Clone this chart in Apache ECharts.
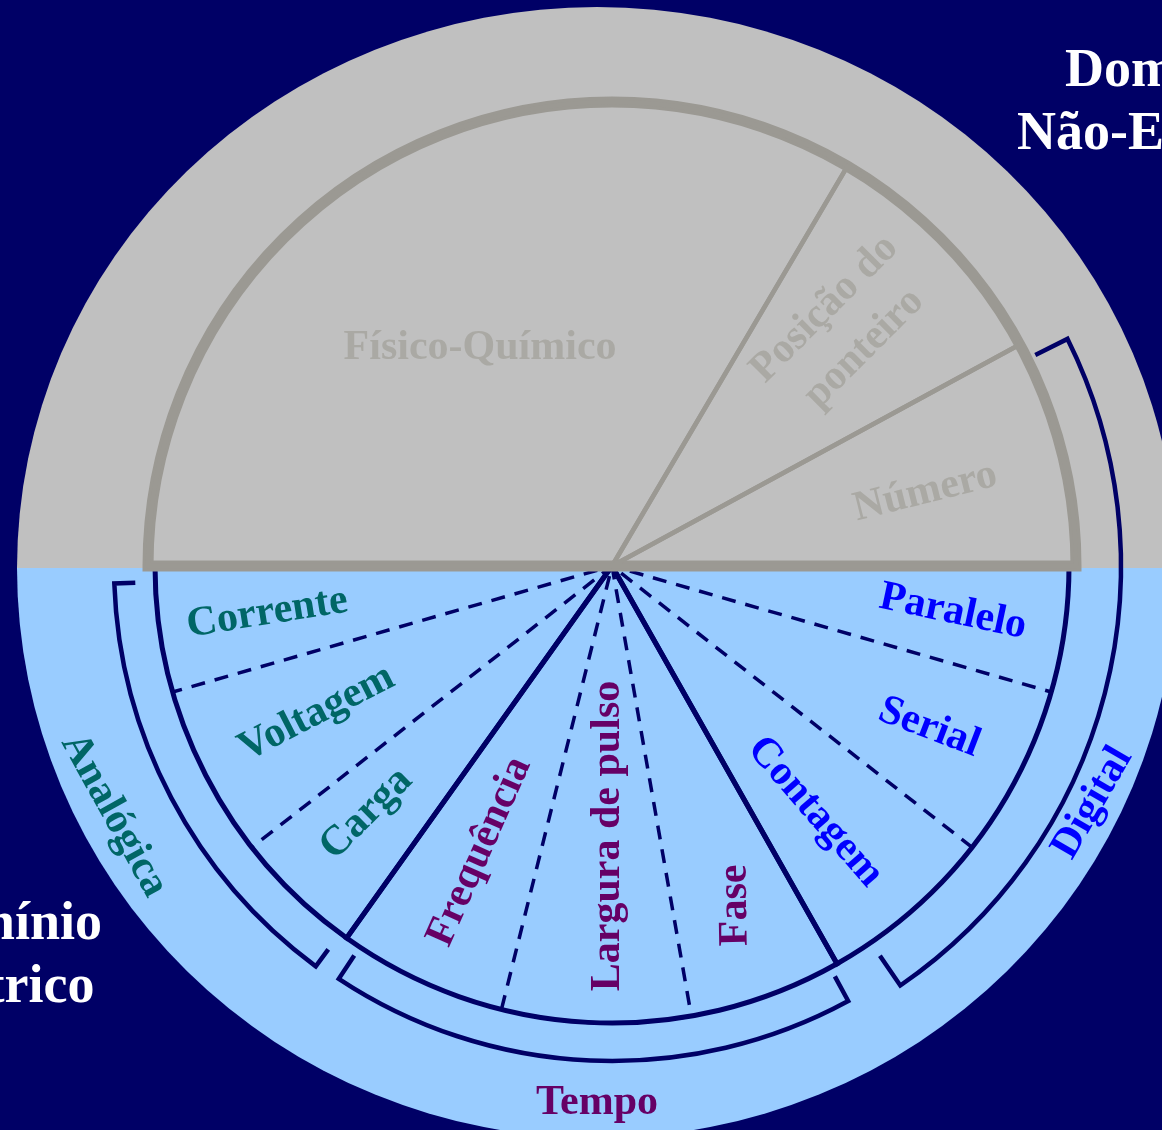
<!DOCTYPE html>
<html>
<head>
<meta charset="utf-8">
<script src="https://cdn.jsdelivr.net/npm/echarts@6/dist/echarts.min.js"></script>
<style>
html,body{margin:0;padding:0;background:#000066;}
#chart{width:1162px;height:1130px;}
</style>
</head>
<body>
<div id="chart"></div>
<script>
// ---------------- data (angles in degrees) ----------------
const domainNames = ['Domínio Não-Elétrico', 'Domínio Elétrico'];
const domainSpans = [180, 180];

const physicalNames = ['Físico-Químico', 'Posição do\nponteiro', 'Número'];
const physicalSpans = [120.5, 31, 28.5];

const electricNames = ['Paralelo', 'Serial', 'Contagem', 'Fase', 'Largura de pulso',
                       'Frequência', 'Carga', 'Voltagem', 'Corrente'];
const electricSpans = [16, 22, 22.5, 19.5, 24, 21.5, 16.5, 22, 16];

const groupNames = ['Digital', 'Tempo', 'Analógica'];
const groupSizes = [3, 3, 3];            // electric sectors belonging to each group
const bracketFrom = [-26.5, 61.5, 126.5]; // bracket extent of each group
const bracketTo = [55.5, 123.5, 178];

// ---------------- styles & layout ----------------
const NAVY = '#000066', GRAY = '#c0c0c0', LIGHT = '#99ccff', EDGE = '#9b9993', GHOST = '#aaa9a4';
const GROUP_COLORS = ['#0000ff', '#660066', '#006666'];
const FONT = '"Liberation Serif","Times New Roman",serif';

const OUTER = { center: [597, 568], radius: 580, scaleY: [561 / 580, 570 / 580] };
const INNER = { center: [612, 566], polarRadius: 600, upperR: 464, lowerR: 457 };
const BRACKET = [{ r: 509, tick: 36 }, { r: 495, tick: 28 }, { r: 498, tick: 21 }];

const physicalLabel = [
  { r: 255, da: -1.4, rot: 0 },
  { r: 332, da: -1.6, rot: 45, lh: 56 },
  { r: 322, da: 1.0, rot: 14 }
];
const electricLabel = [
  { r: 344, da: -0.3, rot: -12 },
  { r: 356, da: 0, rot: -21 },
  { r: 319, da: 1.2, rot: -49 },
  { r: 361, da: -0.2, rot: 91 },
  { r: 270, da: -1.1, rot: 90 },
  { r: 315, da: 0.1, rot: 66 },
  { r: 349, da: 1.0, rot: 45 },
  { r: 330, da: 0.5, rot: 27 },
  { r: 348, da: 0.2, rot: 9 }
];
const groupLabel = [
  { r: 536, da: -4, rot: 60 },
  { r: 537, da: -1.4, rot: 0 },
  { r: 557, da: 0.65, rot: -61 }
];

// ---------------- helpers ----------------
function ranges(spans, start) {
  const out = []; let a = start;
  spans.forEach(s => { out.push([a, a + s]); a += s; });
  return out;
}
const groupSpans = [];
(function () {
  let k = 0;
  groupSizes.forEach(n => { let s = 0; for (let j = 0; j < n; j++) s += electricSpans[k++]; groupSpans.push(s); });
})();
const groupOf = [];
groupSizes.forEach((n, g) => { for (let j = 0; j < n; j++) groupOf.push(g); });

function pixAngle(c, p) { return Math.atan2(p[1] - c[1], p[0] - c[0]); }
function sweep(a0, a1) { let d = a1 - a0; while (d <= 1e-9) d += Math.PI * 2; while (d > Math.PI * 2) d -= Math.PI * 2; return d; }

const filler = { name: '', value: 180, itemStyle: { color: 'transparent', borderWidth: 0 } };

// label items
const labelItems = [];
ranges(physicalSpans, -180).forEach((rg, i) => {
  const L = physicalLabel[i];
  labelItems.push({ text: physicalNames[i], color: GHOST, r: L.r, angle: (rg[0] + rg[1]) / 2 + L.da, rot: L.rot, lh: L.lh });
});
ranges(electricSpans, 0).forEach((rg, i) => {
  const L = electricLabel[i];
  labelItems.push({ text: electricNames[i], color: GROUP_COLORS[groupOf[i]], r: L.r, angle: (rg[0] + rg[1]) / 2 + L.da, rot: L.rot });
});
ranges(groupSpans, 0).forEach((rg, i) => {
  const L = groupLabel[i];
  labelItems.push({ text: groupNames[i], color: GROUP_COLORS[i], r: L.r, angle: (rg[0] + rg[1]) / 2 + L.da, rot: L.rot });
});

const hiddenAxis = { show: false, axisLine: { show: false }, axisTick: { show: false }, axisLabel: { show: false }, splitLine: { show: false } };
const pieBase = {
  type: 'pie', silent: true, animation: false, clockwise: true,
  label: { show: false }, labelLine: { show: false }, emphasis: { disabled: true, scale: false }
};

const option = {
  backgroundColor: NAVY,
  animation: false,
  polar: [
    { center: OUTER.center, radius: OUTER.radius },
    { center: INNER.center, radius: INNER.polarRadius }
  ],
  angleAxis: [
    Object.assign({ polarIndex: 0, type: 'value', min: -180, max: 180, startAngle: 180, clockwise: true }, hiddenAxis),
    Object.assign({ polarIndex: 1, type: 'value', min: -180, max: 180, startAngle: 180, clockwise: true }, hiddenAxis)
  ],
  radiusAxis: [
    Object.assign({ polarIndex: 0, type: 'value', min: 0, max: OUTER.radius }, hiddenAxis),
    Object.assign({ polarIndex: 1, type: 'value', min: 0, max: INNER.polarRadius }, hiddenAxis)
  ],
  graphic: domainNames.map((n, i) => ({
    type: 'text', z: 100,
    x: i === 0 ? 1164 : 3, y: i === 0 ? 104 : 957,
    style: { text: n.replace(' ', '\n'), fill: '#ffffff', font: 'bold 54px ' + FONT, align: 'center', verticalAlign: 'middle', lineHeight: 63 }
  })),
  series: [
    // outer domains (two half discs)
    {
      type: 'custom', coordinateSystem: 'polar', polarIndex: 0, silent: true, z: 1,
      data: ranges(domainSpans, -180).map((rg, i) => ({ name: domainNames[i], value: rg })),
      renderItem: function (params, api) {
        const i = params.dataIndex;
        const from = api.value(0), to = api.value(1);
        const c = api.coord([0, from]);
        const p0 = api.coord([OUTER.radius, from]);
        const p1 = api.coord([OUTER.radius, to]);
        const a0 = pixAngle(c, p0);
        const a1 = a0 + sweep(a0, pixAngle(c, p1));
        return {
          type: 'sector',
          shape: { cx: c[0], cy: c[1], r: Math.hypot(p0[0] - c[0], p0[1] - c[1]), r0: 0, startAngle: a0, endAngle: a1, clockwise: true },
          originX: c[0], originY: c[1], scaleY: OUTER.scaleY[i],
          style: { fill: i === 0 ? GRAY : LIGHT, stroke: null }
        };
      }
    },
    // electric sectors (dashed separators, drawn on alternating slices)
    Object.assign({}, pieBase, {
      z: 3, center: INNER.center, radius: [0, INNER.lowerR], startAngle: 0,
      data: electricNames.map((n, i) => ({
        name: n, value: electricSpans[i],
        itemStyle: { color: 'transparent', borderColor: NAVY, borderWidth: i % 2 === 0 ? 3.5 : 0, borderType: [14, 10] }
      })).concat([filler])
    }),
    // electric groups (solid separators + arc)
    Object.assign({}, pieBase, {
      z: 4, center: INNER.center, radius: [0, INNER.lowerR], startAngle: 0,
      data: groupNames.map((n, i) => ({
        name: n, value: groupSpans[i],
        itemStyle: { color: 'transparent', borderColor: NAVY, borderWidth: 5, borderJoin: 'miter' }
      })).concat([filler])
    }),
    // brackets
    {
      type: 'custom', coordinateSystem: 'polar', polarIndex: 1, silent: true, z: 5,
      data: groupNames.map((n, i) => ({ name: n, value: [bracketFrom[i], bracketTo[i]] })),
      renderItem: function (params, api) {
        const i = params.dataIndex;
        const from = api.value(0), to = api.value(1);
        const B = BRACKET[i];
        const s0 = api.coord([B.r - B.tick, from]);
        const c0 = api.coord([B.r, from]);
        const c1 = api.coord([B.r, to]);
        const s1 = api.coord([B.r - B.tick, to]);
        const cc = api.coord([0, from]);
        const rr = Math.hypot(c0[0] - cc[0], c0[1] - cc[1]);
        const large = sweep(pixAngle(cc, c0), pixAngle(cc, c1)) > Math.PI ? 1 : 0;
        const d = 'M' + s0[0] + ' ' + s0[1] + ' L' + c0[0] + ' ' + c0[1] +
          ' A' + rr + ' ' + rr + ' 0 ' + large + ' 1 ' + c1[0] + ' ' + c1[1] +
          ' L' + s1[0] + ' ' + s1[1];
        return {
          type: 'path', shape: { pathData: d },
          style: { fill: null, stroke: NAVY, lineWidth: 4.5, lineJoin: 'miter', lineCap: 'butt' }
        };
      }
    },
    // non-electric half: thick outline
    Object.assign({}, pieBase, {
      z: 6, center: INNER.center, radius: [0, INNER.upperR], startAngle: 180,
      data: [{ name: domainNames[0], value: 180, itemStyle: { color: GRAY, borderColor: EDGE, borderWidth: 11, borderJoin: 'miter' } }, filler]
    }),
    // non-electric sectors
    Object.assign({}, pieBase, {
      z: 7, center: INNER.center, radius: [0, INNER.upperR], startAngle: 180,
      data: physicalNames.map((n, i) => ({
        name: n, value: physicalSpans[i],
        itemStyle: { color: 'transparent', borderColor: EDGE, borderWidth: 4.5 }
      })).concat([filler])
    }),
    // labels
    {
      type: 'custom', coordinateSystem: 'polar', polarIndex: 1, silent: true, z: 10,
      data: labelItems.map(L => ({ name: L.text, value: [L.r, L.angle] })),
      renderItem: function (params, api) {
        const L = labelItems[params.dataIndex];
        const p = api.coord([api.value(0), api.value(1)]);
        return {
          type: 'text', x: p[0], y: p[1], rotation: L.rot * Math.PI / 180,
          style: {
            text: L.text, fill: L.color, font: 'bold 42px ' + FONT,
            align: 'center', verticalAlign: 'middle', lineHeight: L.lh || 48
          }
        };
      }
    }
  ]
};

const chart = echarts.init(document.getElementById('chart'));
chart.setOption(option);
</script>
</body>
</html>
